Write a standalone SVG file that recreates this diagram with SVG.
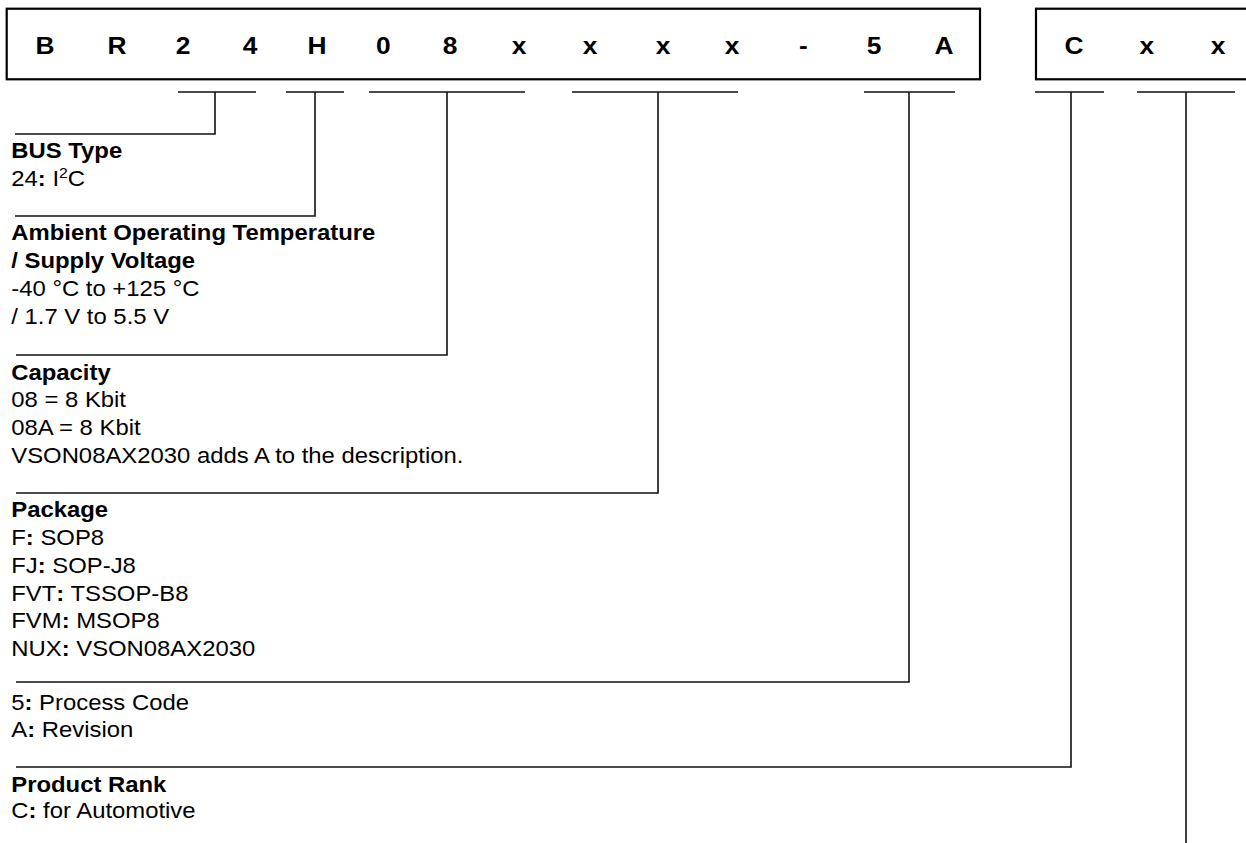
<svg xmlns="http://www.w3.org/2000/svg" width="1246" height="843" viewBox="0 0 1246 843">
<style>
.box{fill:none;stroke:#000;stroke-width:2.2}
.ln{fill:none;stroke:#111;stroke-width:1.6}
.h{font-family:"Liberation Sans",Arial,sans-serif;font-size:23px;font-weight:bold;text-anchor:middle;fill:#000}
.t{font-family:"Liberation Sans",Arial,sans-serif;font-size:22px;fill:#000}
.b{font-weight:bold}
</style>
<rect fill="#fff" width="1246" height="843"/>
<g id="part-number">
<rect class="box" x="6.7" y="8.7" width="973.3" height="70.6"/>
<g transform="scale(1.145,1)">
<text class="h" x="39.3" y="54">B</text>
<text class="h" x="102.2" y="54">R</text>
<text class="h" x="159.8" y="54">2</text>
<text class="h" x="218.3" y="54">4</text>
<text class="h" x="276.9" y="54">H</text>
<text class="h" x="334.9" y="54">0</text>
<text class="h" x="393.0" y="54">8</text>
<text class="h" x="453.3" y="54">x</text>
<text class="h" x="515.3" y="54">x</text>
<text class="h" x="579.0" y="54">x</text>
<text class="h" x="639.3" y="54">x</text>
<text class="h" x="701.7" y="54">-</text>
<text class="h" x="763.3" y="54">5</text>
<text class="h" x="824.5" y="54">A</text>
</g>
</g>
<g id="rank-code">
<rect class="box" x="1036" y="8.7" width="230" height="70.6"/>
<g transform="scale(1.145,1)">
<text class="h" x="938.0" y="54">C</text>
<text class="h" x="1001.7" y="54">x</text>
<text class="h" x="1063.8" y="54">x</text>
</g>
</g>
<g id="connectors">
<path class="ln" d="M178 92H256M215 92V134H15"/>
<path class="ln" d="M286 92H344M315 92V216H15"/>
<path class="ln" d="M369 92H525M447 92V355H16"/>
<path class="ln" d="M572 92H738M658 92V493H16"/>
<path class="ln" d="M864 92H955M909 92V682H16"/>
<path class="ln" d="M1035 92H1104M1071 92V767H16"/>
<path class="ln" d="M1137 92H1235M1186 92V843"/>
</g>
<g transform="scale(1.085,1)">
<g id="bus-type">
<text class="t b" x="10.4" y="158">BUS Type</text>
<text class="t" x="10.4" y="186">24<tspan class="b">:</tspan> I<tspan font-size="14.5" dy="-8">2</tspan><tspan dy="8">C</tspan></text>
</g>
<g id="temperature-voltage">
<text class="t b" x="10.4" y="240">Ambient Operating Temperature</text>
<text class="t b" x="10.4" y="268">/ Supply Voltage</text>
<text class="t" x="10.4" y="296">-40 °C to +125 °C</text>
<text class="t" x="10.4" y="324">/ 1.7 V to 5.5 V</text>
</g>
<g id="capacity">
<text class="t b" x="10.4" y="380">Capacity</text>
<text class="t" x="10.4" y="407">08 = 8 Kbit</text>
<text class="t" x="10.4" y="435">08A = 8 Kbit</text>
<text class="t" x="10.4" y="463">VSON08AX2030 adds A to the description.</text>
</g>
<g id="package">
<text class="t b" x="10.4" y="517">Package</text>
<text class="t" x="10.4" y="545">F<tspan class="b">:</tspan> SOP8</text>
<text class="t" x="10.4" y="573">FJ<tspan class="b">:</tspan> SOP-J8</text>
<text class="t" x="10.4" y="601">FVT<tspan class="b">:</tspan> TSSOP-B8</text>
<text class="t" x="10.4" y="628">FVM<tspan class="b">:</tspan> MSOP8</text>
<text class="t" x="10.4" y="656">NUX<tspan class="b">:</tspan> VSON08AX2030</text>
</g>
<g id="process-revision">
<text class="t" x="10.4" y="710">5<tspan class="b">:</tspan> Process Code</text>
<text class="t" x="10.4" y="737">A<tspan class="b">:</tspan> Revision</text>
</g>
<g id="product-rank">
<text class="t b" x="10.4" y="792">Product Rank</text>
<text class="t" x="10.4" y="818">C<tspan class="b">:</tspan> for Automotive</text>
</g>
</g>
</svg>
